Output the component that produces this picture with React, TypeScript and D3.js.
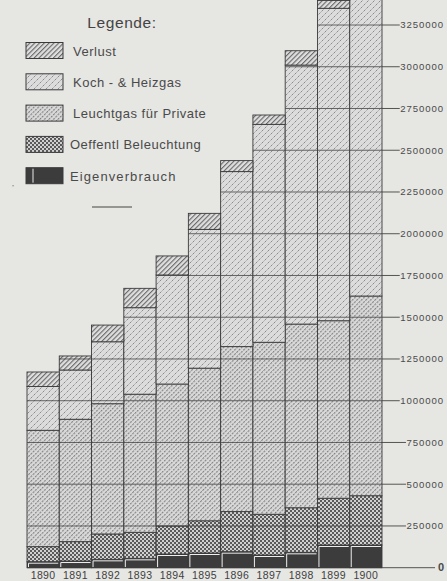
import React from "react";
import * as d3 from "d3";

const years = ["1890","1891","1892","1893","1894","1895","1896","1897","1898","1899","1900"];
const eigenverbrauch = [36000, 40000, 50000, 56000, 82000, 88000, 96000, 76000, 92000, 136000, 136000];
const oeffentl = [90000, 116000, 152000, 156000, 168000, 193000, 240000, 244000, 267000, 280000, 295000];
const leuchtgas = [697000, 733000, 780000, 827000, 850000, 914000, 988000, 1030000, 1100000, 1063000, 1196000];
const kochgas = [262000, 295000, 371000, 518000, 653000, 831000, 1048000, 1305000, 1551000, 1871000, 1823000];
const verlust = [87000, 84000, 100000, 116000, 114000, 96000, 66000, 56000, 86000, 47000, 90000];

const tickValues = [0, 250000, 500000, 750000, 1000000, 1250000, 1500000, 1750000, 2000000, 2250000, 2500000, 2750000, 3000000, 3250000];
const tickLabels = ["0", "250000", "500000", "750000", "1000000", "1250000", "1500000", "1750000", "2000000", "2250000", "2500000", "2750000", "3000000", "3250000"];

const legendItems = [
  { key: "verlust", label: "Verlust" },
  { key: "koch", label: "Koch - & Heizgas" },
  { key: "leucht", label: "Leuchtgas für Private" },
  { key: "oeff", label: "Oeffentl  Beleuchtung" },
  { key: "eigen", label: "Eigenverbrauch" },
];

const keys = ["eigen", "oeff", "leucht", "koch", "verlust"];

const W = 447, H = 581;
const PAPER = "#e6e6e3";
const INK = "#3a3a3a";

export default function App() {
  const rows = years.map((y, i) => ({
    year: y,
    eigen: eigenverbrauch[i],
    oeff: oeffentl[i],
    leucht: leuchtgas[i],
    koch: kochgas[i],
    verlust: verlust[i],
  }));
  const series = d3.stack<any>().keys(keys)(rows);
  const x = d3.scaleBand().domain(years).range([27, 382]).padding(0);
  const y = d3.scaleLinear().domain([0, 3250000]).range([567.7, 25]);
  const bw = x.bandwidth();

  const fillFor = (k: string) =>
    k === "eigen" ? "#3c3c3c" : `url(#p-${k})`;

  const totals = rows.map((r) => keys.reduce((s, k) => s + (r as any)[k], 0));

  const axisFs = 9.6;
  const axisLs = 0.9;
  const labelWidth = (s: string) => s.length * 5.56 * axisFs / 10 + (s.length - 1) * axisLs;

  return (
    <svg width={W} height={H} style={{ position: "absolute", left: 0, top: 0 }} xmlns="http://www.w3.org/2000/svg">
      <defs>
        <pattern id="p-verlust" patternUnits="userSpaceOnUse" width="3.4" height="3.4" patternTransform="rotate(45)">
          <rect width="3.4" height="3.4" fill="#dedede" />
          <line x1="0.6" y1="0" x2="0.6" y2="3.4" stroke="#555" strokeWidth="0.95" />
        </pattern>
        <pattern id="p-leucht" patternUnits="userSpaceOnUse" width="3.2" height="3.2" patternTransform="rotate(45)">
          <rect width="3.2" height="3.2" fill="#d9d9d9" />
          <line x1="0.6" y1="0" x2="0.6" y2="3.2" stroke="#6a6a6a" strokeWidth="0.85" strokeDasharray="2.2 1" />
        </pattern>
        <pattern id="p-koch" patternUnits="userSpaceOnUse" width="6" height="6">
          <rect width="6" height="6" fill="#dcdcdc" />
          <line x1="0.5" y1="2.5" x2="2.5" y2="0.5" stroke="#777" strokeWidth="0.8" />
          <line x1="3.5" y1="5.5" x2="5.5" y2="3.5" stroke="#777" strokeWidth="0.8" />
        </pattern>
        <pattern id="p-oeff" patternUnits="userSpaceOnUse" width="4" height="4">
          <rect width="4" height="4" fill="#d0d0d0" />
          <rect x="0" y="0" width="2" height="2" fill="#5a5a5a" />
          <rect x="2" y="2" width="2" height="2" fill="#5a5a5a" />
        </pattern>
        <pattern id="p-eigen" patternUnits="userSpaceOnUse" width="4" height="4">
          <rect width="4" height="4" fill="#3c3c3c" />
        </pattern>
      </defs>
      <rect x={0} y={0} width={W} height={H} fill={PAPER} />

      {/* Legend */}
      <text x={122} y={28} textAnchor="middle" fontFamily="'Liberation Sans', sans-serif" fontSize={15.5} fill="#444" letterSpacing={0.6}>Legende:</text>
      {legendItems.map((it, i) => {
        const by = 42.5 + i * 31.3;
        return (
          <g key={it.key}>
            <rect x={26} y={by} width={37} height={16} fill={fillFor(it.key)} stroke={INK} strokeWidth={1} />
            {it.key === "eigen" && (
              <line x1={33} y1={by + 1} x2={33} y2={by + 15} stroke="#e8e8e8" strokeWidth={1} />
            )}
            <text x={it.key === "oeff" || it.key === "eigen" ? 70 : 73} y={by + 13} fontFamily="'Liberation Sans', sans-serif" fontSize={13} fill="#4a4a4a" letterSpacing={it.key === "eigen" ? 1.1 : 0.5}>{it.label}</text>
          </g>
        );
      })}
      <text x={12} y={186} fontSize={8} fill="#666">,</text>
      <line x1={92} y1={207} x2={132} y2={207} stroke="#444" strokeWidth={1} />

      {/* Bars */}
      {series.map((s) => (
        <g key={s.key}>
          {s.map((d, i) => {
            const yr = years[i];
            const x0 = x(yr)!;
            const top = y(d[1]);
            const bot = y(d[0]);
            return (
              <g key={yr}>
                <rect x={x0} y={top} width={bw} height={bot - top} fill={fillFor(s.key)} stroke={INK} strokeWidth={0.9} />
                {s.key === "eigen" && (
                  <path d={`M${x0 + 1.5},${bot - 0.5} V${top + 1.5} H${x0 + bw - 1}`} fill="none" stroke="#eeeeee" strokeWidth={1} />
                )}
              </g>
            );
          })}
        </g>
      ))}

      {/* gridlines inside bars */}
      {years.map((yr, i) => (
        <g key={"g" + yr}>
          {tickValues.filter((t) => t > 0 && t < totals[i]).map((t) => (
            <line key={t} x1={x(yr)!} x2={x(yr)! + bw} y1={y(t)} y2={y(t)} stroke="#444" strokeWidth={0.8} />
          ))}
        </g>
      ))}

      {/* right axis */}
      {tickValues.map((t, i) => {
        const lab = tickLabels[i];
        const isZero = t === 0;
        const end = isZero ? 435 : 444 - labelWidth(lab) - 1.5;
        return (
          <g key={"t" + t}>
            <line x1={382} x2={end} y1={y(t)} y2={y(t)} stroke="#444" strokeWidth={0.9} />
            <text x={444} y={y(t) + 3.4} textAnchor="end" fontFamily="'Liberation Sans', sans-serif" fontSize={isZero ? 11 : axisFs} fontWeight={isZero ? "bold" : "normal"} fill="#4a4a4a" letterSpacing={isZero ? 0 : axisLs}>{lab}</text>
          </g>
        );
      })}
      <line x1={27} x2={382} y1={y(0)} y2={y(0)} stroke={INK} strokeWidth={1} />

      {/* year labels */}
      {years.map((yr) => (
        <text key={"y" + yr} x={x(yr)! + bw / 2} y={579} textAnchor="middle" fontFamily="'Liberation Sans', sans-serif" fontSize={10.5} fill="#3f3f3f" letterSpacing={0.4}>{yr}</text>
      ))}
    </svg>
  );
}
